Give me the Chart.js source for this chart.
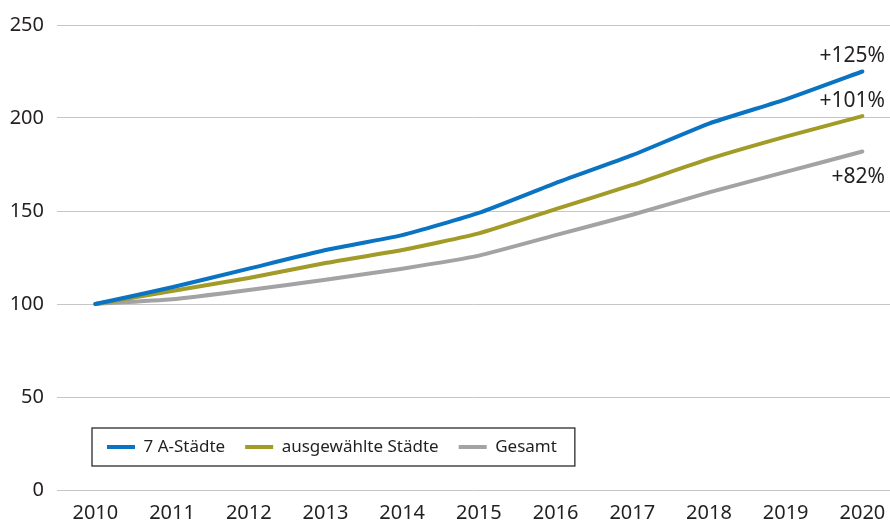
<!DOCTYPE html>
<html>
<head>
<meta charset="utf-8">
<script src="https://cdn.jsdelivr.net/npm/chart.js@4.4.0/dist/chart.umd.min.js"></script>
<style>
  html, body { margin: 0; padding: 0; background: #fff; }
</style>
</head>
<body>
<canvas id="chartIndex" width="890" height="520"></canvas>
<script>
// Index 2010 = 100
const jahre = [2010, 2011, 2012, 2013, 2014, 2015, 2016, 2017, 2018, 2019, 2020];
const aStaedte = [100, 109, 119, 129, 137, 149, 165, 180, 197, 210, 225];
const ausgewaehlt = [100, 107, 114, 122, 129, 138, 151, 164, 178, 190, 201];
const gesamt = [100, 102.5, 107.5, 113, 119, 126, 137, 148, 160, 171, 182];
const endLabels = ['+125%', '+101%', '+82%'];
const yTicks = [0, 50, 100, 150, 200, 250];

const textColor = '#231f20';
const fontFamily = '"Noto Sans", "DejaVu Sans", sans-serif';

const toPoints = (werte) => werte.map((v, i) => ({ x: jahre[i], y: v }));

// Legende in die Grafik schieben (nimmt keinen Platz weg), Rahmen drum, Prozentangaben
const extras = {
    id: 'extras',
    afterInit(chart) {
        const lg = chart.legend;
        const fitOrig = lg.fit.bind(lg);
        lg.fit = function () {
            fitOrig();
            this._echteHoehe = this.height;
            this.height = 0;
        };
    },
    afterLayout(chart) {
        const lg = chart.legend;
        const area = chart.chartArea;
        const dx = area.left + 30 - lg.left;
        lg.left += dx;
        lg.right += dx;
        lg.top = area.bottom - 71.5;
        lg.height = lg._echteHoehe;
        lg.bottom = lg.top + lg.height;
    },
    afterDraw(chart) {
        const ctx = chart.ctx;
        const lg = chart.legend;
        const boxes = lg.legendHitBoxes;
        if (boxes && boxes.length) {
            const first = boxes[0];
            const last = boxes[boxes.length - 1];
            const cy = first.top + first.height / 2;
            const x0 = first.left - 15;
            const x1 = last.left + last.width + 18;
            ctx.save();
            ctx.strokeStyle = '#2b2b2b';
            ctx.lineWidth = 1.3;
            ctx.strokeRect(x0, cy - 19, x1 - x0, 38);
            ctx.restore();
        }

        const offsets = [-15, -15, 26];
        ctx.save();
        ctx.font = '21px ' + fontFamily;
        ctx.fillStyle = textColor;
        ctx.textAlign = 'right';
        ctx.textBaseline = 'middle';
        endLabels.forEach((txt, i) => {
            const meta = chart.getDatasetMeta(i);
            const pt = meta.data[meta.data.length - 1];
            ctx.fillText(txt, chart.chartArea.right - 5, pt.y + offsets[i]);
        });
        ctx.restore();
    }
};

const chartIndex = new Chart(document.getElementById('chartIndex').getContext('2d'), {
    type: 'line',
    data: {
        datasets: [
            {
                label: '7 A-Städte',
                data: toPoints(aStaedte),
                borderColor: '#0a74c2',
                backgroundColor: '#0a74c2'
            },
            {
                label: 'ausgewählte Städte',
                data: toPoints(ausgewaehlt),
                borderColor: '#a39b28',
                backgroundColor: '#a39b28'
            },
            {
                label: 'Gesamt',
                data: toPoints(gesamt),
                borderColor: '#a3a3a6',
                backgroundColor: '#a3a3a6'
            }
        ]
    },
    options: {
        responsive: false,
        animation: false,
        layout: { padding: { top: 24, right: 0, left: 0, bottom: 0 } },
        datasets: {
            line: {
                borderWidth: 4,
                borderCapStyle: 'round',
                borderJoinStyle: 'round',
                pointRadius: 0,
                tension: 0.15
            }
        },
        plugins: {
            tooltip: { enabled: false },
            legend: {
                position: 'bottom',
                align: 'start',
                labels: {
                    usePointStyle: true,
                    pointStyle: 'line',
                    pointStyleWidth: 28,
                    padding: 20,
                    color: textColor,
                    font: { family: fontFamily, size: 17 }
                }
            }
        },
        scales: {
            x: {
                type: 'linear',
                min: 2009.5,
                max: 2020.36,
                afterBuildTicks: (scale) => { scale.ticks = jahre.map(v => ({ value: v })); },
                afterFit: (scale) => { scale.height = 30; },
                grid: { display: false },
                border: { display: false },
                ticks: {
                    padding: 3,
                    maxRotation: 0,
                    autoSkip: false,
                    color: textColor,
                    font: { family: fontFamily, size: 20 },
                    callback: (v) => String(v)
                }
            },
            y: {
                min: 0,
                max: 250,
                afterBuildTicks: (scale) => { scale.ticks = yTicks.map(v => ({ value: v })); },
                afterFit: (scale) => { scale.width = 57; },
                grid: { color: '#c6c6c6', lineWidth: 1, drawTicks: false },
                border: { display: false },
                ticks: {
                    padding: 13,
                    color: textColor,
                    font: { family: fontFamily, size: 20 }
                }
            }
        }
    },
    plugins: [extras]
});
</script>
</body>
</html>
